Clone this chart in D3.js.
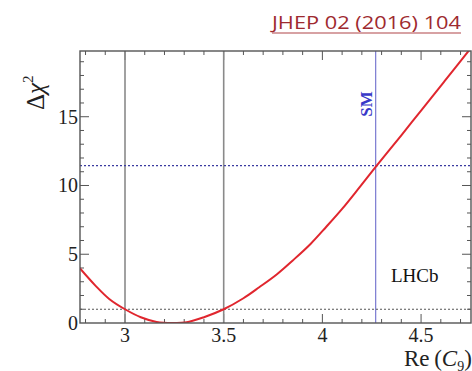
<!DOCTYPE html>
<html>
<head>
<meta charset="utf-8">
<script src="https://cdn.jsdelivr.net/npm/d3@7"></script>
<style>
  body { margin: 0; background: #fff; }
  svg { display: block; }
  .serif { font-family: "Liberation Serif", "Times New Roman", "DejaVu Serif", serif; }
  .sans { font-family: "Open Sans", "Liberation Sans", sans-serif; }
</style>
</head>
<body>
<div class="viz"></div>
<script>
// scan values
const reC9 = [2.77, 2.85, 2.92, 3.0, 3.08, 3.16, 3.24, 3.32, 3.4, 3.5, 3.6, 3.68, 3.77, 3.85, 3.94, 4.02, 4.1, 4.19, 4.27, 4.4, 4.5, 4.62, 4.75];
const dChi2 = [4.0, 2.72, 1.75, 1.0, 0.42, 0.08, 0.0, 0.08, 0.42, 1.0, 1.8, 2.6, 3.55, 4.55, 5.75, 7.0, 8.3, 9.9, 11.35, 13.65, 15.45, 17.6, 19.95];
const xTicks = [3, 3.5, 4, 4.5];
const yTicks = [0, 5, 10, 15];
const intervalEdges = [3.0, 3.5];
const smValue = 4.27;
const smChi2 = 11.45;
const oneSigma = 1;

const width = 472, height = 371;
const margin = { top: 51, right: 1, bottom: 48, left: 80 };

const svg = d3.select('.viz').append('svg')
  .attr('width', width).attr('height', height);

const x = d3.scaleLinear().domain([2.772, 4.753]).range([margin.left, width - margin.right]);
const y = d3.scaleLinear().domain([0, 19.78]).range([height - margin.bottom, margin.top]);

const x0 = x.range()[0], x1 = x.range()[1];
const y0 = y.range()[0], y1 = y.range()[1];

svg.append('defs').append('clipPath').attr('id', 'plotClip')
  .append('rect').attr('x', x0).attr('y', y1).attr('width', x1 - x0).attr('height', y0 - y1);

// minor + major ticks
const xMinor = d3.range(2.8, 4.76, 0.1).map(v => +v.toFixed(2));
const yMinor = d3.range(1, 20, 1);
const tickCol = '#555';

const ticks = svg.append('g').attr('stroke', tickCol).attr('stroke-width', 1);
xMinor.forEach(v => {
  const major = xTicks.some(t => Math.abs(t - v) < 1e-6);
  const len = major ? 9 : 4;
  ticks.append('line').attr('x1', x(v)).attr('x2', x(v)).attr('y1', y0).attr('y2', y0 - len);
  ticks.append('line').attr('x1', x(v)).attr('x2', x(v)).attr('y1', y1).attr('y2', y1 + len);
});
yMinor.forEach(v => {
  const major = yTicks.includes(v);
  const len = major ? 9 : 4;
  ticks.append('line').attr('x1', x0).attr('x2', x0 + len).attr('y1', y(v)).attr('y2', y(v));
  ticks.append('line').attr('x1', x1).attr('x2', x1 - len).attr('y1', y(v)).attr('y2', y(v));
});

// interval lines
intervalEdges.forEach(v => {
  svg.append('line')
    .attr('x1', x(v)).attr('x2', x(v)).attr('y1', y0).attr('y2', y1)
    .attr('stroke', '#8a8a8a').attr('stroke-width', 1.6);
});

// SM line
svg.append('line')
  .attr('x1', x(smValue)).attr('x2', x(smValue)).attr('y1', y0).attr('y2', y1)
  .attr('stroke', '#7a7ad0').attr('stroke-width', 1.2);

// dotted horizontals
svg.append('line')
  .attr('x1', x0).attr('x2', x1).attr('y1', y(smChi2)).attr('y2', y(smChi2))
  .attr('stroke', '#3a3aa0').attr('stroke-width', 1.2).attr('stroke-dasharray', '2,2');
svg.append('line')
  .attr('x1', x0).attr('x2', x1).attr('y1', y(oneSigma)).attr('y2', y(oneSigma))
  .attr('stroke', '#555').attr('stroke-width', 1.2).attr('stroke-dasharray', '2,2');

// the curve
const pts = reC9.map((v, i) => [v, dChi2[i]]);
svg.append('path')
  .datum(pts)
  .attr('clip-path', 'url(#plotClip)')
  .attr('fill', 'none')
  .attr('stroke', '#e0262e')
  .attr('stroke-width', 2)
  .attr('d', d3.line().x(d => x(d[0])).y(d => y(d[1])).curve(d3.curveCatmullRom.alpha(0.5)));

// frame
svg.append('rect')
  .attr('x', x0).attr('y', y1).attr('width', x1 - x0).attr('height', y0 - y1)
  .attr('fill', 'none').attr('stroke', '#555').attr('stroke-width', 1.4);

// tick labels
svg.append('g').selectAll('text').data(xTicks).join('text')
  .attr('class', 'serif')
  .attr('x', d => x(d)).attr('y', y0 + 19)
  .attr('text-anchor', 'middle')
  .attr('font-size', 20).attr('fill', '#222')
  .text(d => d);
svg.append('g').selectAll('text').data(yTicks).join('text')
  .attr('class', 'serif')
  .attr('x', x0 - 2).attr('y', d => y(d) + 7)
  .attr('text-anchor', 'end')
  .attr('font-size', 20).attr('fill', '#222')
  .text(d => d);

// axis titles
const xt = svg.append('text')
  .attr('class', 'serif')
  .attr('x', 404).attr('y', 366)
  .attr('font-size', 23).attr('fill', '#222');
xt.append('tspan').text('Re\u2009(');
xt.append('tspan').attr('font-style', 'italic').text('C');
xt.append('tspan').attr('font-size', 14).attr('dy', 5).text('9');
xt.append('tspan').attr('dy', -5).text(')');

const yt = svg.append('text')
  .attr('class', 'serif')
  .attr('transform', 'translate(44,110) rotate(-90)')
  .attr('font-size', 25).attr('fill', '#222');
yt.append('tspan').text('\u0394');
yt.append('tspan').attr('font-style', 'italic').text('\u03c7');
yt.append('tspan').attr('font-size', 15).attr('dy', -11).text('2');

// SM label
svg.append('text')
  .attr('class', 'serif')
  .attr('transform', 'translate(372,104) rotate(-90)')
  .attr('text-anchor', 'middle')
  .attr('font-weight', 'bold').attr('font-size', 17)
  .attr('fill', '#3838c8')
  .text('SM');

// LHCb label
svg.append('text')
  .attr('class', 'serif')
  .attr('x', 391).attr('y', 282)
  .attr('font-size', 19).attr('fill', '#111')
  .text('LHCb');

// journal reference
svg.append('text')
  .attr('class', 'sans')
  .attr('x', 272).attr('y', 29)
  .attr('font-size', 19)
  .attr('textLength', 189).attr('lengthAdjust', 'spacingAndGlyphs')
  .attr('fill', '#9e2a2f')
  .text('JHEP 02 (2016) 104');
svg.append('line')
  .attr('x1', 272).attr('x2', 461).attr('y1', 33).attr('y2', 33)
  .attr('stroke', '#b04448').attr('stroke-width', 1.2);
</script>
</body>
</html>
